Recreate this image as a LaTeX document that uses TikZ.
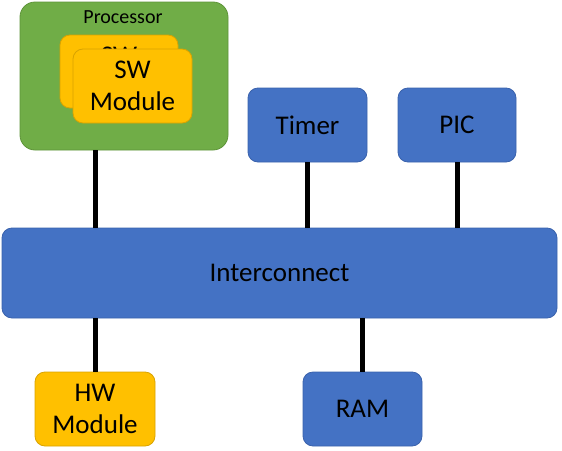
\documentclass[tikz,border=0pt]{standalone}
\usepackage{fontspec}
\setmainfont{Carlito}
\usepackage{tikz}
\usetikzlibrary{positioning}

\definecolor{boxblue}{HTML}{4472C4}
\definecolor{boxblueline}{HTML}{3A62AC}
\definecolor{boxyellow}{HTML}{FFC000}
\definecolor{boxyellowline}{HTML}{D9A300}
\definecolor{boxgreen}{HTML}{70AD47}
\definecolor{boxgreenline}{HTML}{5E9439}

\tikzset{
  hwblock/.style={draw=boxblueline, fill=boxblue, rounded corners=10pt, line width=0.8pt,
    minimum width=119pt, minimum height=74pt, align=center, font=\fontsize{27}{32}\selectfont},
  modblock/.style={hwblock, draw=boxyellowline, fill=boxyellow},
  cpublock/.style={draw=boxgreenline, fill=boxgreen, rounded corners=15pt, line width=0.8pt,
    minimum width=208pt, minimum height=148pt},
  wire/.style={line width=5pt, black}
}

\begin{document}
\begin{tikzpicture}[x=1pt,y=-1pt]
\useasboundingbox (0,0) rectangle (562,450);
% Processor with its software modules
\node[cpublock] (proc) at (124,76) {};
\node[font=\fontsize{20}{24}\selectfont] (proclbl) at (123,17) {Processor};
\node[modblock, minimum width=118pt, minimum height=73pt] (swback) at (119,71.5) {SW\\Module};
\node[modblock] (swfront) at (132.5,86) {SW\\Module};
% Peripherals
\node[hwblock] (timer) at (307.5,125) {Timer};
\node[hwblock, minimum width=118pt] (pic) at (457,125) {PIC};
% Bus
\node[hwblock, minimum width=555pt, minimum height=90pt] (bus) at (279.5,273) {Interconnect};
% Lower blocks
\node[modblock, minimum width=120pt] (hw) at (95,409) {HW\\Module};
\node[hwblock] (ram) at (362.5,409) {RAM};
% Wires to the bus
\draw[wire] (proc.south -| hw) -- (bus.north -| hw);
\draw[wire] (timer.south) -- (timer.south |- bus.north);
\draw[wire] (pic.south) -- (pic.south |- bus.north);
\draw[wire] (hw.north) -- (hw.north |- bus.south);
\draw[wire] (ram.north) -- (ram.north |- bus.south);
\end{tikzpicture}
\end{document}
